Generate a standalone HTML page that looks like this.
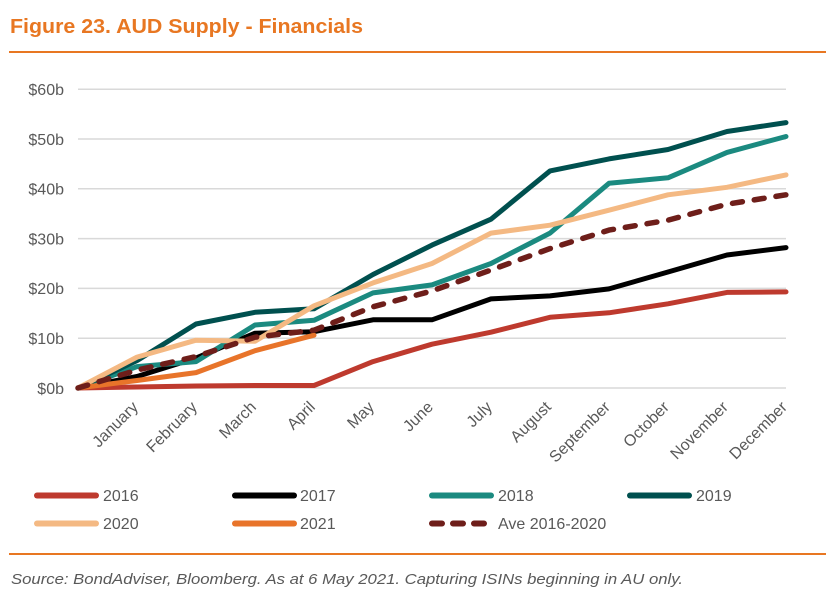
<!DOCTYPE html>
<html><head><meta charset="utf-8"><style>
html,body{margin:0;padding:0;background:#fff;}
svg{display:block;}
text{font-family:"Liberation Sans",Arial,sans-serif;}
</style></head><body>
<svg width="838" height="600" viewBox="0 0 838 600" xmlns="http://www.w3.org/2000/svg">
<rect width="838" height="600" fill="#fff"/>
<text x="10" y="33" font-size="20" font-weight="bold" fill="#E87722" textLength="353" lengthAdjust="spacingAndGlyphs">Figure 23. AUD Supply - Financials</text>
<line x1="9" y1="52" x2="826" y2="52" stroke="#E87722" stroke-width="2"/>

<g stroke="#D9D9D9" stroke-width="1.5">
<line x1="78" y1="89.2" x2="786" y2="89.2"/>
<line x1="78" y1="139" x2="786" y2="139"/>
<line x1="78" y1="188.8" x2="786" y2="188.8"/>
<line x1="78" y1="238.6" x2="786" y2="238.6"/>
<line x1="78" y1="288.4" x2="786" y2="288.4"/>
<line x1="78" y1="338.2" x2="786" y2="338.2"/>
<line x1="78" y1="388" x2="786" y2="388"/>
</g>
<g font-size="16" fill="#595959" text-anchor="end">
<text x="64" y="95">$60b</text>
<text x="64" y="145">$50b</text>
<text x="64" y="194.5">$40b</text>
<text x="64" y="244.5">$30b</text>
<text x="64" y="294">$20b</text>
<text x="64" y="344">$10b</text>
<text x="64" y="394">$0b</text>
</g>

<g font-size="16" fill="#595959" text-anchor="end">
<text transform="translate(139,408) rotate(-45)">January</text>
<text transform="translate(198,408) rotate(-45)">February</text>
<text transform="translate(257,408) rotate(-45)">March</text>
<text transform="translate(316,408) rotate(-45)">April</text>
<text transform="translate(375,408) rotate(-45)">May</text>
<text transform="translate(434,408) rotate(-45)">June</text>
<text transform="translate(493,408) rotate(-45)">July</text>
<text transform="translate(552,408) rotate(-45)">August</text>
<text transform="translate(611,408) rotate(-45)">September</text>
<text transform="translate(670,408) rotate(-45)">October</text>
<text transform="translate(729,408) rotate(-45)">November</text>
<text transform="translate(788,408) rotate(-45)">December</text>
</g>

<g fill="none" stroke-width="5" stroke-linejoin="round" stroke-linecap="round">
<polyline stroke="#BE3A2E" points="78,388 137,387 196,386 255,385.5 314,385.5 373,361.6 432,344.2 491,332.2 550,317.3 609,312.8 668,303.8 727,292.4 786,291.9"/>
<polyline stroke="#000000" points="78,388 137,376.5 196,358.1 255,333.2 314,331.7 373,319.8 432,319.8 491,298.9 550,295.9 609,288.9 668,272 727,255 786,247.6"/>
<polyline stroke="#1B8A80" points="78,388 137,366.6 196,361.6 255,325 314,320.3 373,292.9 432,284.9 491,263.5 550,233.1 609,183.3 668,177.8 727,152.4 786,136.5"/>
<polyline stroke="#00504F" points="78,388 137,360.6 196,324 255,312.3 314,308.8 373,274.5 432,245.1 491,219.2 550,170.9 609,158.9 668,149.5 727,131.5 786,122.6"/>
<polyline stroke="#F4B983" points="78,388 137,357.1 196,340.2 255,341.2 314,305.8 373,282.9 432,263.5 491,233.1 550,225.2 609,210.2 668,194.8 727,187.3 786,174.9"/>
<polyline stroke="#E8742A" points="78,388 137,380.5 196,372.6 255,350.7 314,335.2"/>
<polyline stroke="#6E1E1A" stroke-width="5.5" stroke-dasharray="10 12" points="78,388 137,370.1 196,356.6 255,337.2 314,330.2 373,306.8 432,290.9 491,270 550,248.6 609,230.1 668,220.2 727,204.2 786,194.8"/>
</g>

<g stroke-width="6" stroke-linecap="round">
<line x1="37" y1="495.5" x2="96" y2="495.5" stroke="#BE3A2E"/>
<line x1="235" y1="495.5" x2="294" y2="495.5" stroke="#000000"/>
<line x1="432" y1="495.5" x2="491" y2="495.5" stroke="#1B8A80"/>
<line x1="630" y1="495.5" x2="689" y2="495.5" stroke="#00504F"/>
<line x1="37" y1="523.5" x2="96" y2="523.5" stroke="#F4B983"/>
<line x1="235" y1="523.5" x2="294" y2="523.5" stroke="#E8742A"/>
<line x1="432" y1="523.5" x2="491" y2="523.5" stroke="#6E1E1A" stroke-dasharray="10 11"/>
</g>
<g font-size="16" fill="#595959">
<text x="103" y="501">2016</text>
<text x="300" y="501">2017</text>
<text x="498" y="501">2018</text>
<text x="696" y="501">2019</text>
<text x="103" y="529">2020</text>
<text x="300" y="529">2021</text>
<text x="498" y="529">Ave 2016-2020</text>
</g>

<line x1="9" y1="554" x2="826" y2="554" stroke="#E87722" stroke-width="2"/>
<text x="11" y="584" font-size="15" font-style="italic" fill="#595959" textLength="672" lengthAdjust="spacingAndGlyphs">Source: BondAdviser, Bloomberg. As at 6 May 2021. Capturing ISINs beginning in AU only.</text>
</svg>
</body></html>
